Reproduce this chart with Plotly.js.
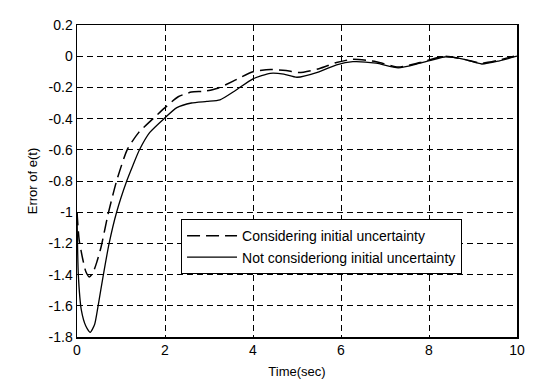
<!DOCTYPE html>
<html>
<head>
<meta charset="utf-8">
<script src="https://cdn.plot.ly/plotly-3.0.1.min.js"></script>
<style>html,body{margin:0;padding:0;background:#fff;}#chart{width:536px;height:382px;}</style>
</head>
<body>
<div id="chart"></div>
<script>
// Time samples (sec) and error values
const tConsidering = [0, 0.05, 0.13, 0.2, 0.28, 0.36, 0.45, 0.55, 0.7, 0.9, 1.14, 1.4, 1.73, 2.0, 2.3, 2.6, 2.9, 3.2, 3.55, 4.0, 4.4, 4.75, 5.05, 5.5, 5.9, 6.27, 6.8, 7.3, 7.8, 8.35, 8.8, 9.2, 9.6, 10];
const eConsidering = [-1.0, -1.18, -1.3, -1.38, -1.415, -1.39, -1.32, -1.22, -1.02, -0.8, -0.6, -0.49, -0.4, -0.33, -0.26, -0.23, -0.225, -0.205, -0.16, -0.1, -0.085, -0.092, -0.105, -0.08, -0.04, -0.02, -0.035, -0.07, -0.04, 0.0, -0.02, -0.045, -0.025, 0.005];

const tNotConsidering = [0, 0.03, 0.1, 0.2, 0.3, 0.4, 0.48, 0.6, 0.73, 0.9, 1.13, 1.27, 1.42, 1.65, 1.98, 2.27, 2.6, 2.95, 3.25, 3.6, 4.0, 4.39, 4.7, 5.0, 5.5, 5.9, 6.27, 6.8, 7.3, 7.8, 8.35, 8.8, 9.2, 9.6, 10];
const eNotConsidering = [-1.0, -1.4, -1.63, -1.73, -1.77, -1.72, -1.6, -1.4, -1.2, -1.0, -0.8, -0.7, -0.6, -0.49, -0.4, -0.33, -0.3, -0.29, -0.28, -0.22, -0.145, -0.11, -0.115, -0.135, -0.1, -0.055, -0.035, -0.045, -0.075, -0.045, -0.005, -0.02, -0.05, -0.03, 0.0];

const seriesNames = ["Considering initial uncertainty", "Not consideriong initial uncertainty"];
const xTicks = [0, 2, 4, 6, 8, 10];
const yTicks = [0.2, 0, -0.2, -0.4, -0.6, -0.8, -1, -1.2, -1.4, -1.6, -1.8];
const yTickText = ["0.2", "0", "-0.2", "-0.4", "-0.6", "-0.8", "-1", "-1.2", "-1.4", "-1.6", "-1.8"];

const fam = "Liberation Sans, Arial, sans-serif";
const tickFont = {family: fam, size: 14, color: "#000"};

const traces = [
  {x: tConsidering, y: eConsidering, name: seriesNames[0], mode: "lines",
   line: {color: "#000", width: 1.5, dash: "13px,6px", shape: "spline", smoothing: 0.6}},
  {x: tNotConsidering, y: eNotConsidering, name: seriesNames[1], mode: "lines",
   line: {color: "#000", width: 1.3, shape: "spline", smoothing: 0.6}}
];

const layout = {
  width: 536, height: 382,
  margin: {l: 77, r: 19, t: 25, b: 45},
  paper_bgcolor: "#fff", plot_bgcolor: "#fff",
  font: {family: fam, size: 13, color: "#000"},
  showlegend: true,
  legend: {x: 0.236, y: 0.378, xanchor: "left", yanchor: "top",
           bordercolor: "#000", borderwidth: 1.2, bgcolor: "#fff",
           itemwidth: 50,
           font: {family: fam, size: 14, color: "#000"},
           tracegroupgap: 0},
  xaxis: {range: [0, 10], tickvals: xTicks, ticks: "", showline: true, mirror: true,
          linecolor: "#000", linewidth: 1.5, showgrid: true, gridcolor: "#000",
          gridwidth: 1, griddash: "6px,4px", zeroline: false, tickfont: tickFont,
          title: {text: "Time(sec)", font: {family: fam, size: 13}, standoff: 9}},
  yaxis: {range: [-1.8, 0.2], tickvals: yTicks, ticktext: yTickText, ticks: "", showline: true, mirror: true,
          linecolor: "#000", linewidth: 1.5, showgrid: true, gridcolor: "#000",
          gridwidth: 1, griddash: "6px,4px", zeroline: false, tickfont: tickFont,
          title: {text: "Error of e(t)", font: {family: fam, size: 13}, standoff: 8}}
};

Plotly.newPlot("chart", traces, layout, {displayModeBar: false, staticPlot: true});
</script>
</body>
</html>
